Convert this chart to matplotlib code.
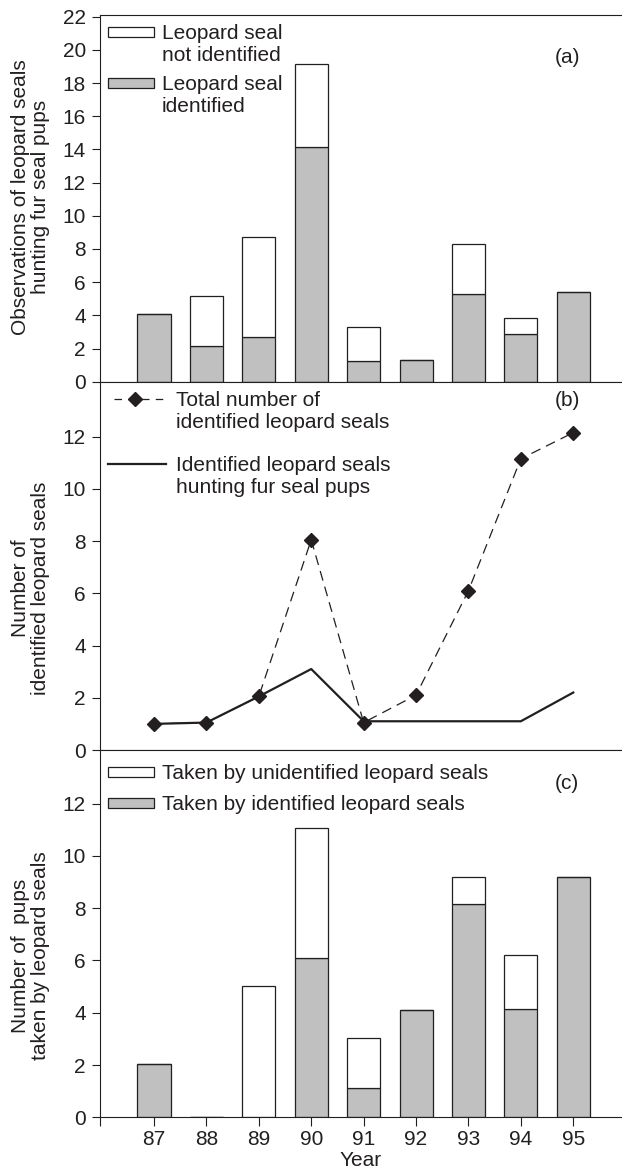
import matplotlib.pyplot as plt
from matplotlib.patches import Rectangle
from matplotlib.lines import Line2D

plt.rcParams['font.family'] = ['Liberation Sans', 'DejaVu Sans']

years = [87, 88, 89, 90, 91, 92, 93, 94, 95]

# (a) observations of leopard seals hunting fur seal pups
obs_identified = [4.1, 2.15, 2.7, 14.15, 1.25, 1.3, 5.3, 2.85, 5.4]
obs_unidentified = [0, 3.0, 6.0, 5.0, 2.05, 0, 3.0, 1.0, 0]

# (b) number of identified leopard seals
total_identified = [1.0, 1.05, 2.05, 8.05, 1.05, 2.1, 6.1, 11.15, 12.15]
identified_hunting = [1.0, 1.05, 2.05, 3.1, 1.1, 1.1, 1.1, 1.1, 2.2]

# (c) pups taken by leopard seals
pups_identified = [2.05, 0, 0, 6.1, 1.12, 4.12, 8.15, 4.15, 9.2]
pups_unidentified = [0, 0, 5.02, 4.97, 1.93, 0, 1.03, 2.07, 0]

INK = '#231f20'
GREY = '#c0c0c0'
W, H = 622, 1172
FS = 15
LEFT = 99.5

fig = plt.figure(figsize=(W / 100, H / 100), dpi=100)


def rect(top, bottom):
    return [LEFT / W, 1 - bottom / H, (W - LEFT) / W, (bottom - top) / H]


ax_a = fig.add_axes(rect(15, 381.7))
ax_b = fig.add_axes(rect(381.7, 750), sharex=ax_a)
ax_c = fig.add_axes(rect(750, 1117.3), sharex=ax_a)

bw = 0.63
ax_a.bar(years, obs_identified, bw, color=GREY, edgecolor=INK, lw=0.9)
ax_a.bar(years, obs_unidentified, bw, bottom=obs_identified, color='white', edgecolor=INK, lw=0.9)

ax_b.plot(years, total_identified, color=INK, lw=0.9, linestyle=(0, (8, 5)),
          marker='D', markersize=7, markerfacecolor=INK, markeredgecolor=INK)
ax_b.plot(years, identified_hunting, color=INK, lw=1.6)

ax_c.bar(years, pups_identified, bw, color=GREY, edgecolor=INK, lw=0.9)
ax_c.bar(years, pups_unidentified, bw, bottom=pups_identified, color='white', edgecolor=INK, lw=0.9)

x_left = 85.96
ax_a.set_xlim(x_left, 95.93)
ax_a.set_ylim(0, 22.1)
ax_a.set_yticks(range(0, 23, 2))
ax_b.set_ylim(0, 14.1)
ax_b.set_yticks(range(0, 13, 2))
ax_c.set_ylim(0, 14.05)
ax_c.set_yticks(range(0, 13, 2))
ax_c.set_xticks(years)
ax_c.set_xticklabels([str(y) for y in years])
ax_c.set_xticks([x_left], minor=True)

for ax in (ax_a, ax_b, ax_c):
    ax.spines['right'].set_visible(False)
    for s in ('left', 'bottom', 'top'):
        ax.spines[s].set_color(INK)
        ax.spines[s].set_linewidth(0.8)
    ax.tick_params(axis='y', direction='out', length=5.8, width=0.8, pad=4,
                   colors=INK, labelsize=FS)
    ax.tick_params(axis='x', which='both', direction='out', length=6.5, width=0.8, pad=3,
                   colors=INK, labelsize=FS)
for ax in (ax_a, ax_b):
    ax.tick_params(axis='x', which='both', bottom=False, labelbottom=False)

ax_a.set_ylabel('Observations of leopard seals\nhunting fur seal pups',
                fontsize=FS, linespacing=1.09, color=INK)
ax_a.yaxis.set_label_coords(-0.095, 0.504)
ax_b.set_ylabel('Number of\nidentified leopard seals',
                fontsize=FS, linespacing=1.09, color=INK)
ax_b.yaxis.set_label_coords(-0.095, 0.44)
ax_c.set_ylabel('Number of  pups\ntaken by leopard seals',
                fontsize=FS, linespacing=1.09, color=INK)
ax_c.yaxis.set_label_coords(-0.095, 0.44)
ax_c.set_xlabel('Year', fontsize=FS, color=INK)
ax_c.xaxis.set_label_coords(0.5, -0.092)

ax_a.text(0.895, 0.885, '(a)', transform=ax_a.transAxes, ha='center', va='center', fontsize=FS, color=INK)
ax_b.text(0.895, 0.950, '(b)', transform=ax_b.transAxes, ha='center', va='center', fontsize=FS, color=INK)
ax_c.text(0.895, 0.910, '(c)', transform=ax_c.transAxes, ha='center', va='center', fontsize=FS, color=INK)


def key_text(x, y, label):
    fig.text(x / W, 1 - (y - 7.7) / H, label, va='top', ha='left',
             fontsize=FS, linespacing=1.16, color=INK)


def box_key(y, color, label):
    fig.add_artist(Rectangle((108 / W, 1 - (y + 5.3) / H), 46 / W, 10.6 / H,
                             transform=fig.transFigure, facecolor=color,
                             edgecolor=INK, lw=0.9))
    key_text(162, y, label)


box_key(32, 'white', 'Leopard seal\nnot identified')
box_key(83, GREY, 'Leopard seal\nidentified')
box_key(772, 'white', 'Taken by unidentified leopard seals')
box_key(803, GREY, 'Taken by identified leopard seals')

y1 = 1 - 399 / H
fig.add_artist(Line2D([114 / W, 135 / W, 167 / W], [y1, y1, y1], transform=fig.transFigure,
                      color=INK, lw=0.9, linestyle=(0, (6, 5)), marker='D', markersize=7,
                      markevery=[1], markerfacecolor=INK, markeredgecolor=INK))
key_text(176, 399, 'Total number of\nidentified leopard seals')
y2 = 1 - 464 / H
fig.add_artist(Line2D([108 / W, 166 / W], [y2, y2], transform=fig.transFigure,
                      color=INK, lw=1.6))
key_text(176, 464, 'Identified leopard seals\nhunting fur seal pups')

fig.savefig('out.png', dpi=100)
